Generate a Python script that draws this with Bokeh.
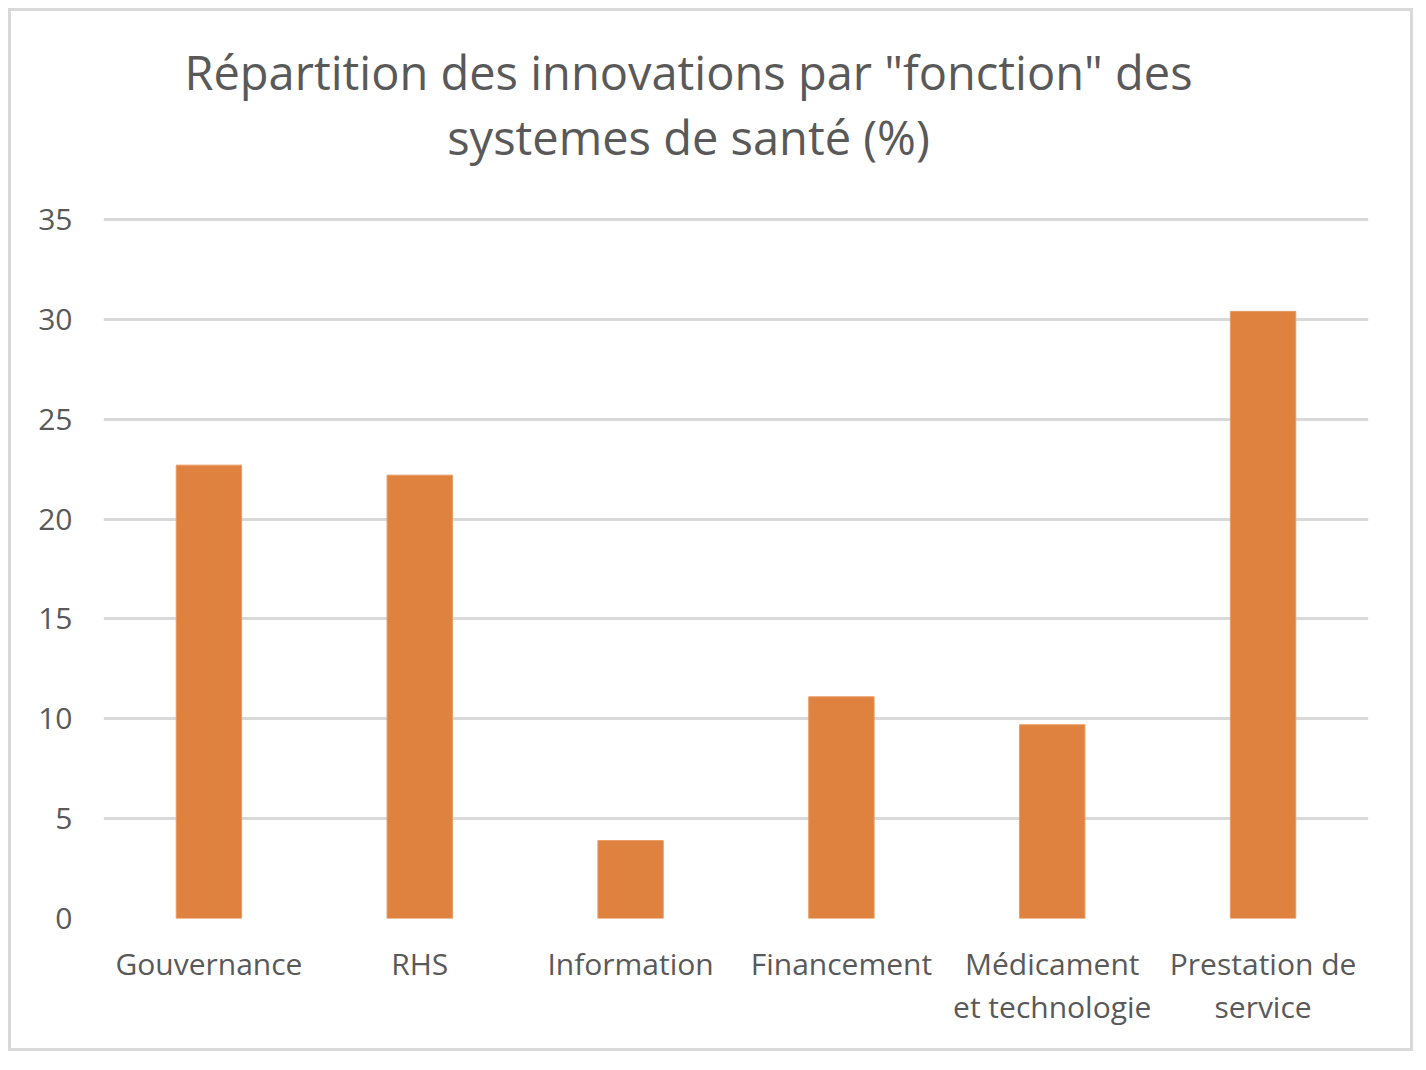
from bokeh.plotting import figure
from bokeh.models import Label, FactorRange, ColumnDataSource, Range1d
from bokeh.embed import file_html
from bokeh.resources import INLINE

categories = ["Gouvernance", "RHS", "Information", "Financement",
              "Médicament\net technologie", "Prestation de\nservice"]
values = [22.7, 22.2, 3.9, 11.1, 9.7, 30.4]
y_ticks = [0, 5, 10, 15, 20, 25, 30, 35]
title_lines = ["Répartition des innovations par \"fonction\" des",
               "systemes de santé (%)"]

FONT = "Open Sans"
TEXT = "#595959"

# the frame spans the whole upper area (title included); the value axis
# 0..35 occupies the lower 699 px of the 907 px tall frame
FRAME_H, AXIS_H = 907, 699
y_end = y_ticks[-1] * FRAME_H / AXIS_H

src = ColumnDataSource(dict(cat=categories, val=values))

p = figure(x_range=FactorRange(*categories, range_padding=0),
           y_range=Range1d(0, y_end),
           width=1399, height=1037, output_backend="svg", toolbar_location=None,
           min_border_left=92, min_border_right=48, min_border_top=0,
           min_border_bottom=136)
p.styles = {"border": "3px solid #d9d9d9", "box-sizing": "content-box",
            "margin-left": "8px", "margin-top": "8px"}

p.vbar(x="cat", top="val", width=0.31, source=src, fill_color="#E0823F",
       line_color="#E89A63", line_width=1)

p.outline_line_color = None
p.xgrid.grid_line_color = None
p.ygrid.grid_line_color = "#d9d9d9"
p.ygrid.grid_line_width = 3
p.yaxis.ticker = y_ticks

for ax in (p.xaxis, p.yaxis):
    ax.axis_line_color = None
    ax.major_tick_line_color = None
    ax.minor_tick_line_color = None
    ax.major_label_text_font = FONT
    ax.major_label_text_color = TEXT
    ax.major_label_text_font_size = "30px"
    ax.major_label_text_font_style = "normal"
    ax.major_label_text_line_height = 1.05
p.yaxis.major_label_standoff = 25
p.xaxis.major_label_standoff = 18

# title lines, screen units measured from the frame's bottom-left corner
for line, sy in zip(title_lines, [847, 782]):
    p.add_layout(Label(x=585, y=sy, x_units="screen", y_units="screen",
                       text=line, text_font=FONT, text_font_size="47px",
                       text_color=TEXT, text_align="center",
                       text_baseline="middle"))

open("out.html", "w").write(file_html(p, INLINE))
